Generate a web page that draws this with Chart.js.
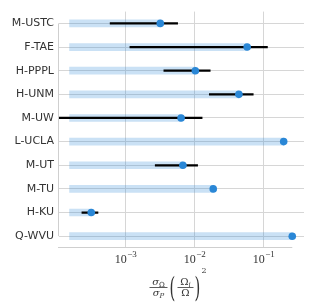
<!DOCTYPE html>
<html>
<head>
<meta charset="utf-8">
<script src="https://cdn.jsdelivr.net/npm/chart.js@4"></script>
<style>
  html, body { margin: 0; padding: 0; background: #fff; }
  canvas { display: block; }
</style>
</head>
<body>
<canvas id="chart" width="314" height="308"></canvas>
<script>
// дані
const categories = ['M-USTC', 'F-TAE', 'H-PPPL', 'H-UNM', 'M-UW', 'L-UCLA', 'M-UT', 'M-TU', 'H-KU', 'Q-WVU'];
const values = [3.2e-3, 0.058, 0.0103, 0.044, 6.4e-3, 0.196, 6.8e-3, 0.0187, 3.2e-4, 0.261];
const errLow = [6.0e-4, 1.16e-3, 3.6e-3, 0.0164, 5e-5, null, 2.7e-3, null, 2.34e-4, null];
const errHigh = [5.7e-3, 0.114, 0.0169, 0.071, 0.0129, null, 0.0111, null, 4.0e-4, null];
const barBase = 1.55e-4;
const xTicks = [1e-3, 1e-2, 1e-1];
const xTickExp = ['−3', '−2', '−1'];

const dotColor = '#2a87d6';
const gridColor = '#d6d6d6';

// осі та підписи малюємо самі (обрізані лінії, степені, формула)
const decorPlugin = {
    id: 'decor',
    afterDraw(chart) {
        const ctx = chart.ctx;
        const xs = chart.scales.x;
        const ys = chart.scales.y;
        const area = chart.chartArea;
        ctx.save();

        // обрізані осі як у seaborn
        ctx.strokeStyle = '#cfcfcf';
        ctx.lineWidth = 1;
        ctx.beginPath();
        ctx.moveTo(area.left - 0.5, ys.getPixelForValue(0));
        ctx.lineTo(area.left - 0.5, ys.getPixelForValue(categories.length - 1));
        ctx.moveTo(area.left - 1, area.bottom - 0.5);
        ctx.lineTo(xs.getPixelForValue(Math.max(...values)), area.bottom - 0.5);
        ctx.stroke();

        // підписи 10^n
        ctx.fillStyle = '#333';
        ctx.textBaseline = 'alphabetic';
        xTicks.forEach((v, i) => {
            const px = xs.getPixelForValue(v);
            ctx.font = '12px "Liberation Serif"';
            const wBase = ctx.measureText('10').width;
            ctx.font = '9px "Liberation Serif"';
            const wExp = ctx.measureText(xTickExp[i]).width;
            const x0 = px - (wBase + wExp) / 2;
            ctx.font = '12px "Liberation Serif"';
            ctx.textAlign = 'left';
            ctx.fillText('10', x0, 263);
            ctx.font = '9px "Liberation Serif"';
            ctx.fillText(xTickExp[i], x0 + wBase + 0.5, 257);
        });

        // підпис осі: σΩ/σP (Ωi/Ω)^2
        const cx = (area.left + area.right) / 2 - 2;
        const yNum = 285, yDen = 296, yBar = 287.5;
        const f = '10px "DejaVu Serif"';
        const fi = 'italic 10px "DejaVu Serif"';
        const fs = '7px "DejaVu Serif"';
        const fsi = 'italic 7px "DejaVu Serif"';
        ctx.textAlign = 'left';

        function pair(x, y, main, mainFont, sub, subFont) {
            ctx.font = mainFont;
            const w1 = ctx.measureText(main).width;
            ctx.font = subFont;
            const w2 = ctx.measureText(sub).width;
            const start = x - (w1 + w2) / 2;
            ctx.font = mainFont;
            ctx.fillText(main, start, y);
            ctx.font = subFont;
            ctx.fillText(sub, start + w1, y + 2);
            return w1 + w2;
        }

        const c1 = cx - 21;
        pair(c1, yNum, 'σ', fi, 'Ω', fs);
        pair(c1, yDen, 'σ', fi, 'P', fsi);
        ctx.fillRect(c1 - 9, yBar - 0.4, 18, 0.8);

        ctx.save();
        ctx.font = '27px "DejaVu Serif"';
        ctx.translate(cx - 10, 297);
        ctx.scale(0.55, 1);
        ctx.fillText('(', 0, 0);
        ctx.restore();

        const c2 = cx + 6;
        pair(c2, yNum, 'Ω', f, 'i', fsi);
        ctx.font = f;
        ctx.textAlign = 'center';
        ctx.fillText('Ω', c2, yDen);
        ctx.textAlign = 'left';
        ctx.fillRect(c2 - 8, yBar - 0.4, 16, 0.8);

        ctx.save();
        ctx.font = '27px "DejaVu Serif"';
        ctx.translate(cx + 15, 297);
        ctx.scale(0.55, 1);
        ctx.fillText(')', 0, 0);
        ctx.restore();

        ctx.font = '8px "DejaVu Serif"';
        ctx.fillText('2', cx + 22, 273);

        ctx.restore();
    }
};

new Chart(document.getElementById('chart').getContext('2d'), {
    type: 'bar',
    plugins: [decorPlugin],
    data: {
        labels: categories,
        datasets: [
            {
                type: 'line',
                indexAxis: 'y',
                data: categories.map((c, i) => ({ x: values[i], y: c })),
                showLine: false,
                pointRadius: 3.8,
                pointBackgroundColor: dotColor,
                pointBorderWidth: 0,
                order: 0
            },
            {
                data: categories.map((c, i) => errLow[i] === null ? null : [errLow[i], errHigh[i]]),
                backgroundColor: '#000',
                barThickness: 1.6,
                grouped: false,
                clip: 0,
                order: 1
            },
            {
                data: values.map(v => [barBase, v]),
                backgroundColor: 'rgba(42,135,214,0.25)',
                barThickness: 7,
                grouped: false,
                clip: 0,
                order: 2
            }
        ]
    },
    options: {
        indexAxis: 'y',
        responsive: false,
        animation: false,
        devicePixelRatio: 1,
        layout: { padding: { left: 0, right: 10, top: 8, bottom: 0 } },
        plugins: {
            legend: { display: false },
            tooltip: { enabled: false }
        },
        scales: {
            x: {
                type: 'logarithmic',
                min: 1.09e-4,
                max: 0.386,
                afterBuildTicks: s => { s.ticks = xTicks.map(v => ({ value: v, major: true })); },
                afterFit: s => { s.height = 60; },
                grid: { color: gridColor, drawTicks: false },
                border: { display: false },
                ticks: { display: false }
            },
            y: {
                type: 'category',
                offset: true,
                afterFit: s => { s.width = 59; },
                grid: { color: gridColor, offset: false, drawTicks: false },
                border: { display: false },
                ticks: {
                    padding: 5,
                    color: '#333',
                    font: { family: '"DejaVu Sans"', size: 11 }
                }
            }
        }
    }
});
</script>
</body>
</html>
